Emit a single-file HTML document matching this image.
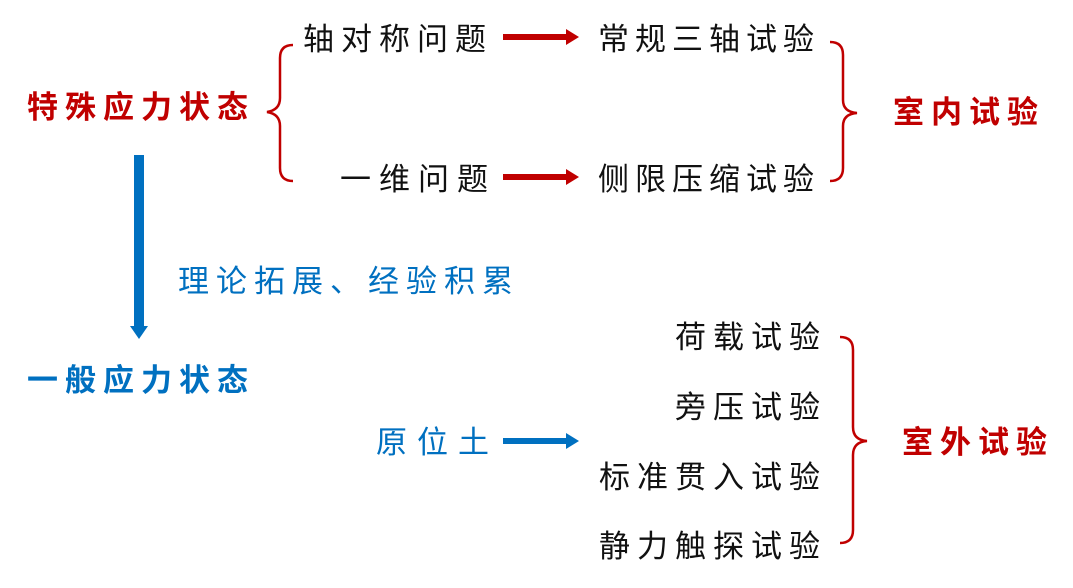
<!DOCTYPE html>
<html><head><meta charset="utf-8"><style>
body{margin:0;width:1073px;height:588px;background:#fff;position:relative;overflow:hidden;font-family:"Liberation Sans","Noto Sans CJK SC",sans-serif;}
.t{position:absolute;white-space:nowrap;font-size:31px;line-height:40px;letter-spacing:7px;color:#111;}
.r{color:#c00000;font-weight:bold;}
.b{color:#0070c0;}
.bb{color:#0070c0;font-weight:bold;}
.ra{text-align:right;width:300px;}
</style></head><body>
<div class="t r" style="left:27px;top:88px;letter-spacing:7px">特殊应力状态</div>
<div class="t" style="left:303px;top:20px;letter-spacing:7px">轴对称问题</div>
<div class="t" style="left:340px;top:160px;letter-spacing:8px">一维问题</div>
<div class="t" style="left:598px;top:20px;letter-spacing:6px">常规三轴试验</div>
<div class="t" style="left:598px;top:160px;letter-spacing:6px">侧限压缩试验</div>
<div class="t r" style="left:893px;top:93px;letter-spacing:7px">室内试验</div>
<div class="t b" style="left:178px;top:262px;letter-spacing:7px">理论拓展、经验积累</div>
<div class="t bb" style="left:27px;top:361px;letter-spacing:7px">一般应力状态</div>
<div class="t b" style="left:376px;top:423px;letter-spacing:10px">原位土</div>
<div class="t ra" style="left:527px;top:318px">荷载试验</div>
<div class="t ra" style="left:527px;top:388px">旁压试验</div>
<div class="t ra" style="left:527px;top:458px">标准贯入试验</div>
<div class="t ra" style="left:527px;top:527px">静力触探试验</div>
<div class="t r" style="left:902px;top:423px;letter-spacing:7px">室外试验</div>
<svg width="1073" height="588" style="position:absolute;left:0;top:0">
<g fill="none" stroke="#c00000" stroke-width="2.5">
<path d="M293 45 Q280 45 280 58 L280 98 Q280 110 267 112 Q280 114 280 126 L280 168 Q280 181 293 181"/>
<path d="M830 42 Q843 42 843 55 L843 100 Q843 112 857 113 Q843 114 843 126 L843 168 Q843 181 830 181"/>
<path d="M840 337 Q853 337 853 350 L853 427 Q853 440 867 441 Q853 442 853 455 L853 530 Q853 543 840 543"/>
</g>
<rect x="503" y="34" width="64" height="6" fill="#c00000"/><polygon points="566,29 579,37 566,45" fill="#c00000"/>
<rect x="503" y="174" width="64" height="6" fill="#c00000"/><polygon points="566,169 579,177 566,185" fill="#c00000"/>
<rect x="503" y="438" width="64" height="6" fill="#0070c0"/><polygon points="566,433 579,441 566,449" fill="#0070c0"/>
<rect x="134" y="155" width="10" height="172" fill="#0070c0"/><polygon points="130,326 148,326 139,339" fill="#0070c0"/>
</svg>
</body></html>
